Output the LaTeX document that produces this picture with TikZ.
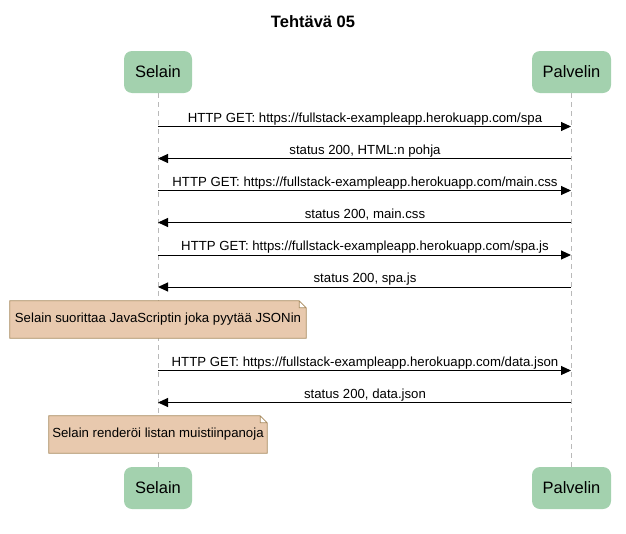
\documentclass[tikz,border=0pt]{standalone}
\usepackage{fontspec}
\setmainfont{Liberation Sans}
\usetikzlibrary{arrows.meta,backgrounds}
\definecolor{actorfill}{HTML}{A3D1AE}
\definecolor{notefill}{HTML}{E8C9AE}
\definecolor{noteline}{HTML}{A88A5E}
\tikzset{
  actor/.style={fill=actorfill, rounded corners=8pt, minimum width=68pt, minimum height=42pt, inner sep=0pt, font=\fontsize{16.5}{19}\selectfont},
  lifeline/.style={draw=gray!55, dash pattern=on 5pt off 4pt, line width=0.8pt},
  msg/.style={-{Triangle[length=10pt,width=9pt]}, line width=1pt},
  msglabel/.style={font=\fontsize{13.2}{15}\selectfont, anchor=base, inner sep=0pt},
  note/.style={minimum height=37pt, inner sep=0pt, font=\fontsize{13.2}{15}\selectfont},
  notebox/.style={fill=notefill, draw=noteline, line width=0.8pt},
}
\begin{document}
\begin{tikzpicture}[x=1pt,y=-1pt]
  \useasboundingbox (0,0) rectangle (626,533);
  \node[font=\bfseries\fontsize{16.5}{19}\selectfont] (title) at (313,22) {Tehtävä 05};
  \node[actor] (selain) at (158,72) {Selain};
  \node[actor, minimum width=79pt] (palvelin) at (571.5,72) {Palvelin};
  \node[actor] (selainb) at (158,488) {Selain};
  \node[actor, minimum width=79pt] (palvelinb) at (571.5,488) {Palvelin};
  \begin{scope}[on background layer]
    \draw[lifeline] (selain) -- (selainb);
    \draw[lifeline] (palvelin) -- (palvelinb);
  \end{scope}
  % viestit
  \foreach \y/\txt [count=\i] in {
      126.5/{HTTP GET: https://fullstack-exampleapp.herokuapp.com/spa},
      158.5/{status 200, HTML:n pohja},
      190.5/{HTTP GET: https://fullstack-exampleapp.herokuapp.com/main.css},
      222.5/{status 200, main.css},
      255/{HTTP GET: https://fullstack-exampleapp.herokuapp.com/spa.js},
      287/{status 200, spa.js},
      370.5/{HTTP GET: https://fullstack-exampleapp.herokuapp.com/data.json},
      402.5/{status 200, data.json}} {
    \coordinate (s\i) at (158,\y);
    \coordinate (p\i) at (571,\y);
    \ifodd\i
      \draw[msg] (s\i) -- (p\i);
    \else
      \draw[msg] (p\i) -- (s\i);
    \fi
    \node[msglabel] (m\i) at (365,\y-4.5) {\txt};
  }
  % muistiinpanot
  \node[note, minimum width=296pt] (n1) at (158,319.5) {Selain suorittaa JavaScriptin joka pyytää JSONin};
  \node[note, minimum width=218pt] (n2) at (158,434.5) {Selain renderöi listan muistiinpanoja};
  \begin{scope}[on background layer]
    \foreach \n in {n1,n2}
      \draw[notebox] (\n.north west) -- ([xshift=-7pt]\n.north east) -- ([yshift=-7pt]\n.north east)
        -- (\n.south east) -- (\n.south west) -- cycle
        ([xshift=-7pt]\n.north east) -- ([xshift=-7pt,yshift=-7pt]\n.north east) -- ([yshift=-7pt]\n.north east);
  \end{scope}
\end{tikzpicture}
\end{document}
